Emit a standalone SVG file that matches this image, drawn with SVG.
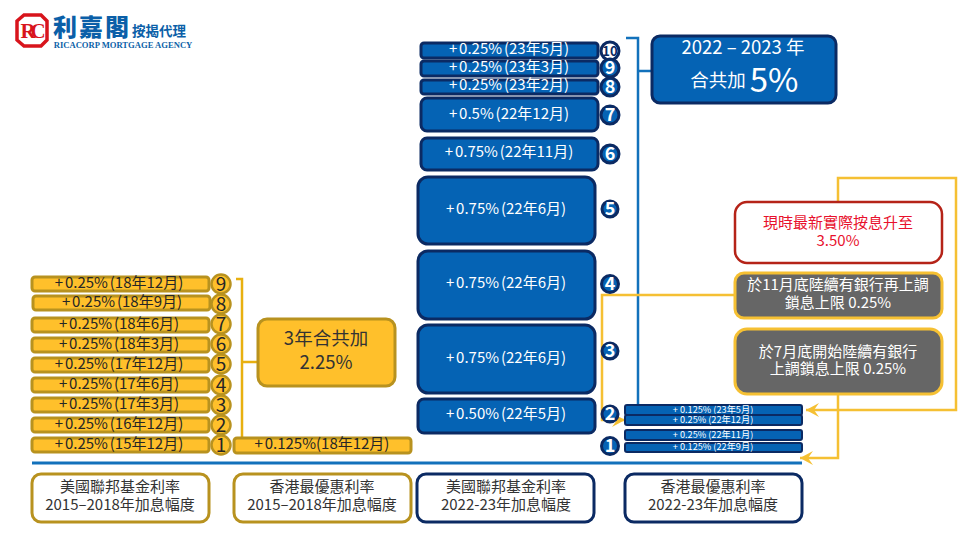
<svg xmlns="http://www.w3.org/2000/svg" width="960" height="540" viewBox="0 0 960 540">
<style>
text{font-family:"Noto Sans CJK TC","Noto Sans",sans-serif;text-anchor:middle}
.y{fill:#ffc02b;stroke:#b8921f;stroke-width:3}
.b{fill:#0563b4;stroke:#0b2a63;stroke-width:3}
.sb{fill:#0563b4;stroke:#0b2a63;stroke-width:2}
.yt{font-size:15px;fill:#262626;word-spacing:-1.5px}
.bt{font-size:15px;fill:#fff;word-spacing:-1.5px}
.st{font-size:9.2px;fill:#fff}
.yc{fill:#ffc02b;stroke:#b8921f;stroke-width:2.5}
.bc{fill:#0563b4;stroke:#0b2a63;stroke-width:3}
.yn{font-size:19px;fill:#262626}
.bn{font-size:18px;fill:#fff;font-weight:700}
.lab{fill:#fff;stroke-width:3}
.lt{font-size:15px;fill:#333}
.gr{fill:#666;stroke:#f5c033;stroke-width:3}
.gt{font-size:15px;fill:#fff}
.gl{fill:none;stroke:#f5c033;stroke-width:2.5}
.bl{fill:none;stroke:#1271bb;stroke-width:2.5}
</style>
<defs>
<marker id="a" markerUnits="userSpaceOnUse" markerWidth="16" markerHeight="16" refX="14" refY="8" orient="auto"><path d="M1 1L14 8L1 15L6 8Z" fill="#f5c033"/></marker>
</defs>

<g id="logo">
<path d="M24 15H41L47 21V40L41 46H24L17 40V21Z" fill="#fff" stroke="#d8141c" stroke-width="3.5"/>
<text x="28" y="38" style="font-family:'Liberation Serif',serif;font-size:21px;font-weight:700;fill:#d8141c">R</text>
<text x="38" y="38" style="font-family:'Liberation Serif',serif;font-size:21px;font-weight:700;fill:#d8141c">C</text>
<text x="92" y="36" style="font-size:24px;font-weight:900;fill:#0b5fa8;letter-spacing:2px">利嘉閣</text>
<text x="159" y="36" style="font-size:13.5px;font-weight:700;fill:#0b5fa8">按揭代理</text>
<text x="123" y="47.5" style="font-family:'Liberation Serif',serif;font-size:8.6px;font-weight:700;fill:#0b5fa8">RICACORP MORTGAGE AGENCY</text>
</g>

<g id="connectors">
<path class="bl" d="M626 38H638V405M638 71H652"/>
<path d="M32 463H802" fill="none" stroke="#1271bb" stroke-width="3"/>
<path d="M236 279H242V438M242 362H258" fill="none" stroke="#e8b010" stroke-width="2.5"/>
<path class="gl" d="M838 201V178H956V410H806" marker-end="url(#a)"/>
<path class="gl" d="M838 394V458H800" marker-end="url(#a)"/>
<path class="gl" d="M735 295H602V420H625" marker-end="url(#a)"/>
</g>

<g id="us-2015-9"><rect class="y" x="32" y="277" width="177" height="14" rx="3"/><text class="yt" x="119" y="288">+ 0.25% (18年12月)</text><circle class="yc" cx="221" cy="284" r="9.5"/><text class="yn" x="221" y="291">9</text></g>
<g id="us-2015-8"><rect class="y" x="33" y="296" width="177" height="14" rx="3"/><text class="yt" x="122" y="307">+ 0.25% (18年9月)</text><circle class="yc" cx="221" cy="304" r="9.5"/><text class="yn" x="221" y="311">8</text></g>
<g id="us-2015-7"><rect class="y" x="32" y="318" width="177" height="14" rx="3"/><text class="yt" x="119" y="329">+ 0.25% (18年6月)</text><circle class="yc" cx="221" cy="324" r="9.5"/><text class="yn" x="221" y="331">7</text></g>
<g id="us-2015-6"><rect class="y" x="32" y="338" width="177" height="14" rx="3"/><text class="yt" x="119" y="349">+ 0.25% (18年3月)</text><circle class="yc" cx="221" cy="344" r="9.5"/><text class="yn" x="221" y="351">6</text></g>
<g id="us-2015-5"><rect class="y" x="32" y="358" width="177" height="14" rx="3"/><text class="yt" x="119" y="369">+ 0.25% (17年12月)</text><circle class="yc" cx="221" cy="364" r="9.5"/><text class="yn" x="221" y="371">5</text></g>
<g id="us-2015-4"><rect class="y" x="32" y="378" width="177" height="14" rx="3"/><text class="yt" x="119" y="389">+ 0.25% (17年6月)</text><circle class="yc" cx="221" cy="385" r="9.5"/><text class="yn" x="221" y="392">4</text></g>
<g id="us-2015-3"><rect class="y" x="32" y="398" width="177" height="14" rx="3"/><text class="yt" x="119" y="409">+ 0.25% (17年3月)</text><circle class="yc" cx="221" cy="405" r="9.5"/><text class="yn" x="221" y="412">3</text></g>
<g id="us-2015-2"><rect class="y" x="32" y="418" width="177" height="14" rx="3"/><text class="yt" x="119" y="429">+ 0.25% (16年12月)</text><circle class="yc" cx="221" cy="425" r="9.5"/><text class="yn" x="221" y="432">2</text></g>
<g id="us-2015-1"><rect class="y" x="32" y="438" width="177" height="14" rx="3"/><text class="yt" x="119" y="449">+ 0.25% (15年12月)</text><circle class="yc" cx="221" cy="445" r="9.5"/><text class="yn" x="221" y="452">1</text></g>

<g id="hk-2015"><rect class="y" x="234" y="438" width="177" height="15" rx="3"/><text class="yt" x="322" y="449">+ 0.125%(18年12月)</text></g>
<g id="total-2015"><rect class="y" x="258" y="319" width="137" height="67" rx="9"/><text x="326" y="345" style="font-size:18.5px;fill:#333">3年合共加</text><text x="326" y="369" style="font-size:18.5px;fill:#333">2.25%</text></g>

<g id="us-2022-10"><rect class="b" x="421" y="43" width="177" height="15" rx="3"/><text class="bt" x="509" y="54">+ 0.25% (23年5月)</text><circle cx="610" cy="51" r="9" fill="#fff" stroke="#0b2a63" stroke-width="3"/><text x="610" y="56" style="font-size:13px;font-weight:700;fill:#0b2a63">10</text></g>
<g id="us-2022-9"><rect class="b" x="421" y="61" width="177" height="15" rx="3"/><text class="bt" x="509" y="72">+ 0.25% (23年3月)</text><circle class="bc" cx="610" cy="68" r="9"/><text class="bn" x="610" y="74">9</text></g>
<g id="us-2022-8"><rect class="b" x="421" y="80" width="177" height="14" rx="3"/><text class="bt" x="509" y="90">+ 0.25% (23年2月)</text><circle class="bc" cx="610" cy="87" r="9"/><text class="bn" x="610" y="93">8</text></g>
<g id="us-2022-7"><rect class="b" x="421" y="98" width="177" height="33" rx="6"/><text class="bt" x="509" y="119">+ 0.5% (22年12月)</text><circle class="bc" cx="610" cy="115" r="9"/><text class="bn" x="610" y="121">7</text></g>
<g id="us-2022-6"><rect class="b" x="421" y="138" width="177" height="32" rx="6"/><text class="bt" x="509" y="157">+ 0.75% (22年11月)</text><circle class="bc" cx="610" cy="154" r="9"/><text class="bn" x="610" y="160">6</text></g>
<g id="us-2022-5"><rect class="b" x="418" y="177" width="177" height="67" rx="10"/><text class="bt" x="506" y="214">+ 0.75% (22年6月)</text><circle class="bc" cx="610" cy="209" r="8"/><text class="bn" x="610" y="215">5</text></g>
<g id="us-2022-4"><rect class="b" x="418" y="251" width="177" height="68" rx="10"/><text class="bt" x="506" y="288">+ 0.75% (22年6月)</text><circle class="bc" cx="610" cy="284" r="8.5"/><text class="bn" x="610" y="290">4</text></g>
<g id="us-2022-3"><rect class="b" x="418" y="325" width="177" height="68" rx="10"/><text class="bt" x="506" y="363">+ 0.75% (22年6月)</text><circle class="bc" cx="610" cy="351" r="8"/><text class="bn" x="610" y="357">3</text></g>
<g id="us-2022-2"><rect class="b" x="418" y="399" width="177" height="34" rx="6"/><text class="bt" x="506" y="419">+ 0.50% (22年5月)</text><circle class="bc" cx="610" cy="414" r="8"/><text class="bn" x="610" y="420">2</text></g>
<g id="us-2022-1"><circle class="bc" cx="610" cy="446" r="8.5"/><text class="bn" x="610" y="452">1</text></g>

<g id="hk-2022-4"><rect class="sb" x="625" y="405" width="177" height="10" rx="2"/><text class="st" x="713" y="413">+ 0.125%  (23年5月)</text></g>
<g id="hk-2022-3"><rect class="sb" x="625" y="415" width="177" height="10" rx="2"/><text class="st" x="713" y="423">+ 0.25%  (22年12月)</text></g>
<g id="hk-2022-2"><rect class="sb" x="625" y="430" width="177" height="10" rx="2"/><text class="st" x="713" y="438">+ 0.25%  (22年11月)</text></g>
<g id="hk-2022-1"><rect class="sb" x="625" y="443" width="177" height="9" rx="2"/><text class="st" x="713" y="450">+ 0.125%  (22年9月)</text></g>

<g id="total-2022"><rect class="b" x="652" y="36" width="184" height="67" rx="8"/><text x="743" y="54" style="font-size:18.5px;fill:#fff">2022 – 2023 年</text><text x="718" y="87" style="font-size:18.5px;fill:#fff">合共加</text><text x="774" y="92" style="font-size:33px;fill:#fff">5%</text></g>

<g id="note-current"><rect x="735" y="202" width="207" height="61" rx="12" fill="#fff" stroke="#b52318" stroke-width="2.5"/><text x="838" y="228" style="font-size:15px;fill:#e8112d">現時最新實際按息升至</text><text x="838" y="246" style="font-size:15px;fill:#e8112d">3.50%</text></g>
<g id="note-nov"><rect class="gr" x="735" y="273" width="207" height="45" rx="9"/><text class="gt" x="838" y="290">於11月底陸續有銀行再上調</text><text class="gt" x="838" y="308">鎖息上限 0.25%</text></g>
<g id="note-jul"><rect class="gr" x="735" y="329" width="207" height="65" rx="12"/><text class="gt" x="838" y="357">於7月底開始陸續有銀行</text><text class="gt" x="838" y="374">上調鎖息上限 0.25%</text></g>

<g id="label-us-2015"><rect class="lab" x="32" y="474" width="177" height="48" rx="9" stroke="#b8921f"/><text class="lt" x="120" y="492">美國聯邦基金利率</text><text class="lt" x="120" y="510">2015–2018年加息幅度</text></g>
<g id="label-hk-2015"><rect class="lab" x="234" y="474" width="177" height="48" rx="9" stroke="#b8921f"/><text class="lt" x="322" y="492">香港最優惠利率</text><text class="lt" x="322" y="510">2015–2018年加息幅度</text></g>
<g id="label-us-2022"><rect class="lab" x="417" y="474" width="177" height="48" rx="9" stroke="#0b2a63"/><text class="lt" x="506" y="492">美國聯邦基金利率</text><text class="lt" x="506" y="510">2022-23年加息幅度</text></g>
<g id="label-hk-2022"><rect class="lab" x="625" y="474" width="177" height="48" rx="9" stroke="#0b2a63"/><text class="lt" x="713" y="492">香港最優惠利率</text><text class="lt" x="713" y="510">2022-23年加息幅度</text></g>
</svg>
